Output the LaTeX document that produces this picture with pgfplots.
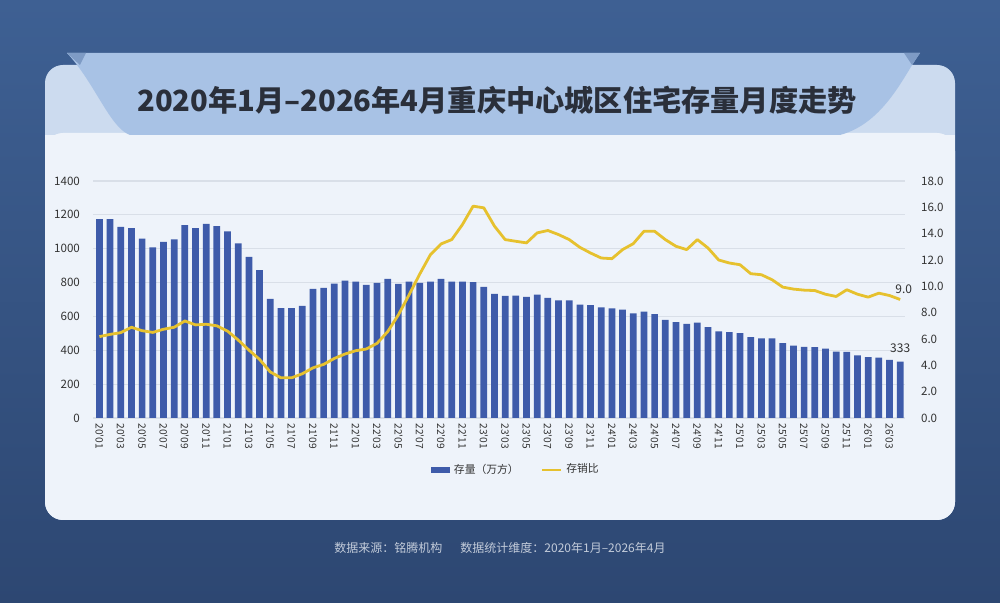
\documentclass[border=0pt]{standalone}
\usepackage{fontspec}
\setmainfont{Noto Sans CJK SC}
\newfontfamily\tkfont{Noto Sans CJK SC}[Ligatures=TeXOff]
\usepackage{pgfplots}
\pgfplotsset{compat=1.18}
\definecolor{bgtop}{HTML}{3E6093}
\definecolor{bgbot}{HTML}{2D4772}
\definecolor{cardtop}{HTML}{CCDBEF}
\definecolor{cardc}{HTML}{EEF3FA}
\definecolor{banner}{HTML}{A8C2E5}
\definecolor{foldc}{HTML}{7E9BC5}
\definecolor{titlec}{HTML}{2A2F3A}
\definecolor{barc}{HTML}{3E5BAA}
\definecolor{linec}{HTML}{E6C12E}
\definecolor{gridc}{HTML}{D9DFE8}
\definecolor{tickc}{HTML}{333333}
\definecolor{footc}{HTML}{C3CCDA}
\begin{document}
\begin{tikzpicture}
\begin{scope}[x=0.5pt,y=0.5pt]
\useasboundingbox (0,0) rectangle (1000,603);
\shade[top color=bgtop, bottom color=bgbot] (0,0) rectangle (1000,603);
% card
\fill[cardtop, rounded corners=9pt] (45,83) rectangle (955,538);
\fill[cardc, rounded corners=9pt] (45,83) rectangle (955,470);
\fill[cardc] (45,440) rectangle (955,468);
% banner
\fill[banner] (67,550) -- (920,550) .. controls (905,530) and (885,480) .. (840,468)
  -- (130,468) .. controls (110,475) and (95,520) .. (67,550) -- cycle;
\fill[foldc] (67,550) -- (86,550) -- (80,538) -- cycle;
\fill[foldc] (920,550) -- (904,550) -- (912,538) -- cycle;
\node[text=titlec, font=\fontsize{14.6}{17}\selectfont\bfseries] at (497,503) {2020年1月–2026年4月重庆中心城区住宅存量月度走势};
\node[text=footc, font=\fontsize{6}{7}\selectfont] at (500,55) {数据来源：铭腾机构\hspace{9pt}数据统计维度：2020年1月–2026年4月};
\end{scope}
% left axis with bars
\begin{axis}[
  at={(46.5pt,92.5pt)}, anchor=south west, scale only axis, clip=false,
  width=406pt, height=118.5pt,
  xmin=-0.6, xmax=75.45, ymin=0, ymax=1400,
  ytick={0,200,...,1400},
  ymajorgrids, grid style={draw=gridc, line width=0.6pt},
  axis line style={draw=none}, major tick length=0pt,
  axis y line*=left, axis x line*=bottom,
  /pgf/number format/assume math mode=true,
  /pgf/number format/1000 sep={},
  yticklabel style={font=\fontsize{5.8}{7}\selectfont, text=tickc, xshift=-3pt},
  xtick={0,2,...,74},
  xticklabels={20'01,20'03,20'05,20'07,20'09,20'11,21'01,21'03,21'05,21'07,21'09,21'11,22'01,22'03,22'05,22'07,22'09,22'11,23'01,23'03,23'05,23'07,23'09,23'11,24'01,24'03,24'05,24'07,24'09,24'11,25'01,25'03,25'05,25'07,25'09,25'11,26'01,26'03},
  xticklabel style={font=\tkfont\fontsize{5.1}{5.5}\selectfont, text=tickc, rotate=-90, anchor=west, xshift=-0.8pt},
  legend style={at={(0.522,-0.219)}, anchor=center, draw=none, fill=none,
    font=\fontsize{5.4}{6}\selectfont, text=tickc,
    /tikz/every even column/.append style={column sep=9pt}},
  legend columns=2, legend cell align=left,
]
\addplot[ybar, bar width=0.63, fill=barc, draw=none,
  legend image code/.code={\fill[barc] (0pt,-1.5pt) rectangle (9.5pt,1.5pt);}]
coordinates {
(0,1175)(1,1175)(2,1129)(3,1121)(4,1059)(5,1008)(6,1040)(7,1055)(8,1140)(9,1121)
(10,1146)(11,1133)(12,1103)(13,1032)(14,952)(15,873)(16,703)(17,649)(18,649)(19,663)
(20,762)(21,768)(22,794)(23,812)(24,806)(25,786)(26,798)(27,822)(28,792)(29,806)
(30,798)(31,806)(32,822)(33,806)(34,806)(35,802)(36,774)(37,733)(38,721)(39,723)
(40,715)(41,729)(42,709)(43,695)(44,695)(45,669)(46,667)(47,653)(48,647)(49,640)
(50,618)(51,628)(52,614)(53,580)(54,566)(55,556)(56,564)(57,537)(58,511)(59,507)
(60,501)(61,477)(62,471)(63,471)(64,442)(65,428)(66,420)(67,418)(68,410)(69,392)
(70,390)(71,370)(72,360)(73,356)(74,343)(75,333)
};
\addlegendentry{存量（万方）}
\addlegendimage{legend image code/.code={\draw[linec, line width=1.3pt] (0pt,0pt) -- (9.5pt,0pt);}}
\addlegendentry{存销比}
\node[font=\fontsize{6}{7}\selectfont, text=tickc] at (axis cs:75,333) [yshift=6.8pt] {333};
\end{axis}
% right axis with line
\begin{axis}[
  at={(46.5pt,92.5pt)}, anchor=south west, scale only axis, clip=false,
  width=406pt, height=118.5pt,
  xmin=-0.6, xmax=75.45, ymin=0, ymax=18,
  ytick={0,2,...,18},
  axis line style={draw=none}, major tick length=0pt,
  axis y line*=right, hide x axis,
  /pgf/number format/assume math mode=true,
  yticklabel style={font=\fontsize{5.8}{7}\selectfont, text=tickc, xshift=4.5pt,
    /pgf/number format/.cd, fixed, fixed zerofill, precision=1},
]
\addplot[linec, line width=1.4pt, line join=round, no marks] coordinates {
(0,6.18)(1,6.35)(2,6.48)(3,6.89)(4,6.63)(5,6.5)(6,6.74)(7,6.89)(8,7.37)(9,7.07)
(10,7.12)(11,7.0)(12,6.6)(13,5.92)(14,5.16)(15,4.45)(16,3.5)(17,3.05)(18,3.05)(19,3.36)
(20,3.81)(21,4.07)(22,4.52)(23,4.86)(24,5.11)(25,5.24)(26,5.67)(27,6.56)(28,7.83)(29,9.35)
(30,10.93)(31,12.4)(32,13.22)(33,13.55)(34,14.69)(35,16.09)(36,15.96)(37,14.57)(38,13.55)(39,13.42)
(40,13.3)(41,14.06)(42,14.24)(43,13.93)(44,13.55)(45,12.96)(46,12.53)(47,12.15)(48,12.1)(49,12.79)
(50,13.24)(51,14.18)(52,14.18)(53,13.55)(54,13.04)(55,12.79)(56,13.55)(57,12.91)(58,12.0)(59,11.77)
(60,11.64)(61,10.96)(62,10.88)(63,10.5)(64,9.94)(65,9.79)(66,9.71)(67,9.68)(68,9.4)(69,9.23)
(70,9.74)(71,9.4)(72,9.18)(73,9.48)(74,9.3)(75,9.0)
};
\node[font=\fontsize{6}{7}\selectfont, text=tickc] at (axis cs:75,9.0) [xshift=1.8pt, yshift=5pt] {9.0};
\end{axis}
\end{tikzpicture}
\end{document}
